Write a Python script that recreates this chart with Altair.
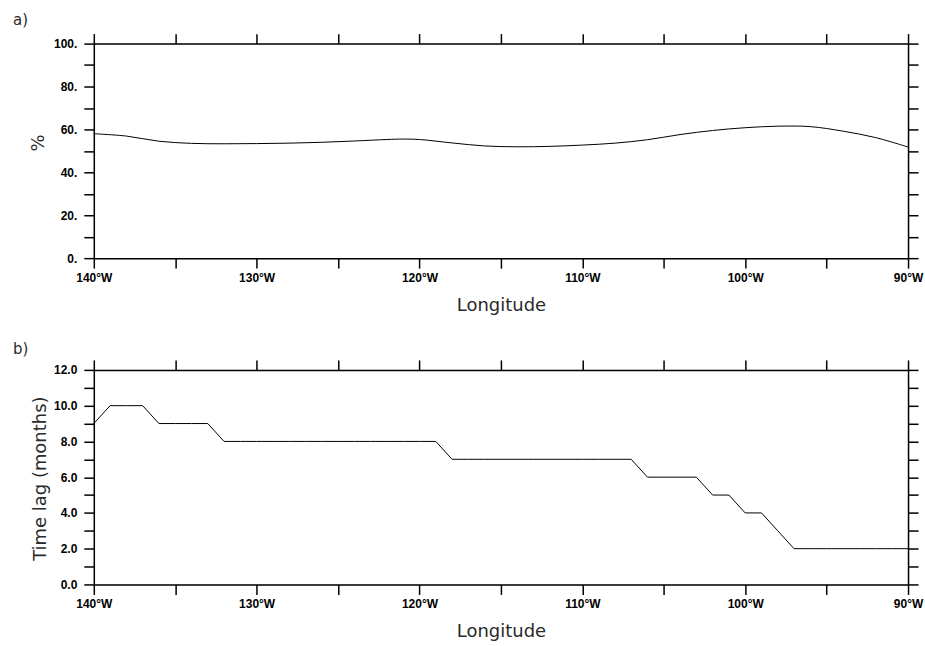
import altair as alt
import pandas as pd

# (a) percentage along the longitude band
lon_a = [-140, -138, -136, -134, -132, -130, -128, -126, -124, -122, -121, -120, -118,
         -116, -114, -112, -110, -108, -106, -104, -102, -100, -98, -96, -94, -92, -90]
pct = [58.0, 56.9, 54.5, 53.5, 53.3, 53.4, 53.6, 54.0, 54.6, 55.3, 55.5, 55.3, 53.7,
       52.3, 51.9, 52.1, 52.7, 53.6, 55.2, 57.6, 59.5, 60.8, 61.5, 61.3, 59.2, 56.2, 51.8]

# (b) time lag in months at each degree of longitude
lon_b = [-140, -139, -138, -137, -136, -135, -134, -133, -132, -131, -130, -129, -128,
         -127, -126, -125, -124, -123, -122, -121, -120, -119, -118, -117, -116, -115,
         -114, -113, -112, -111, -110, -109, -108, -107, -106, -105, -104, -103, -102,
         -101, -100, -99, -98, -97, -96, -95, -94, -93, -92, -91, -90]
lag = [9, 10, 10, 10, 9, 9, 9, 9, 8, 8, 8, 8, 8,
       8, 8, 8, 8, 8, 8, 8, 8, 8, 7, 7, 7, 7,
       7, 7, 7, 7, 7, 7, 7, 7, 6, 6, 6, 6, 5,
       5, 4, 4, 3, 2, 2, 2, 2, 2, 2, 2, 2]

x_ticks = [-140, -135, -130, -125, -120, -115, -110, -105, -100, -95, -90]
ya_ticks = [0, 10, 20, 30, 40, 50, 60, 70, 80, 90, 100]
yb_ticks = [0, 1, 2, 3, 4, 5, 6, 7, 8, 9, 10, 11, 12]

W, H = 816, 215
LABEL_FONT = "Liberation Sans"
TITLE_FONT = "DejaVu Sans"

df_a = pd.DataFrame({"lon": lon_a, "val": pct})
df_b = pd.DataFrame({"lon": lon_b, "val": lag})

common = dict(grid=False, tickSize=10, tickWidth=1.5, tickColor="black",
              domainColor="black", domainWidth=1.5, labelFont=LABEL_FONT,
              labelFontSize=12, labelFontWeight="bold", labelColor="black",
              labelOverlap=False, labelFlush=False,
              titleFont=TITLE_FONT, titleFontSize=18, titleFontWeight="normal",
              titleColor="#2a2a2a")

x_scale = alt.Scale(domain=[-140, -90], nice=False, zero=False)


def corner(px, py):
    # invisible zero-length rule that pins the outer extent of the figure
    return alt.Chart(pd.DataFrame({"k": [0]})).mark_rule(opacity=0, strokeWidth=0).encode(
        x=alt.value(px), x2=alt.value(px), y=alt.value(py), y2=alt.value(py))


def panel(df, y_domain, y_ticks, y_label_expr, y_title, title_x, title_y, tag, tag_y,
          interp, anchor):
    y_scale = alt.Scale(domain=y_domain, nice=False, zero=False)
    x_bottom = alt.Axis(values=x_ticks, orient="bottom", labelPadding=4,
                        labelExpr="datum.value % 10 == 0 ? abs(datum.value) + '°W' : ''",
                        title="Longitude", titleX=W / 2, titleY=52,
                        titleAlign="center", titleBaseline="alphabetic", **common)
    y_left = alt.Axis(values=y_ticks, orient="left", labelPadding=7, labelExpr=y_label_expr,
                      title=y_title, titleX=title_x, titleY=title_y, titleAngle=270,
                      titleAlign="center", titleBaseline="alphabetic", **common)
    x_top = alt.Axis(values=x_ticks, orient="top", labels=False, title=None, **common)
    y_right = alt.Axis(values=y_ticks, orient="right", labels=False, title=None, **common)

    line = alt.Chart(df).mark_line(color="black", strokeWidth=1, interpolate=interp).encode(
        x=alt.X("lon:Q", scale=x_scale, axis=x_bottom),
        y=alt.Y("val:Q", scale=y_scale, axis=y_left),
    )
    frame = alt.Chart(df).mark_line(opacity=0).encode(
        x=alt.X("lon:Q", scale=x_scale, axis=x_top),
        y=alt.Y("val:Q", scale=y_scale, axis=y_right),
    )
    label = alt.Chart(pd.DataFrame({"t": [tag]})).mark_text(
        font=TITLE_FONT, fontSize=15, color="#2a2a2a", align="left",
        baseline="alphabetic").encode(
        text="t:N", x=alt.value(-81), y=alt.value(tag_y))
    return alt.layer(line, frame, label, corner(*anchor)).resolve_axis(
        x="independent", y="independent").properties(width=W, height=H)


top = panel(df_a, [0, 100], ya_ticks,
            "datum.value % 20 == 0 ? datum.value + '.' : ''",
            "%", -50, 99, "a)", -19, "catmull-rom", (-93, -42))
bottom = panel(df_b, [0, 12], yb_ticks,
               "datum.value % 2 == 0 ? format(datum.value, '.1f') : ''",
               "Time lag (months)", -48, 108.5, "b)", -16, "linear", (W + 16, H + 62))

chart = alt.vconcat(top, bottom, spacing=112, bounds="flush").properties(
    padding=0,
).configure_view(stroke=None).configure(background="white")

chart.save("out.html", embed_options={"renderer": "svg", "actions": False})
